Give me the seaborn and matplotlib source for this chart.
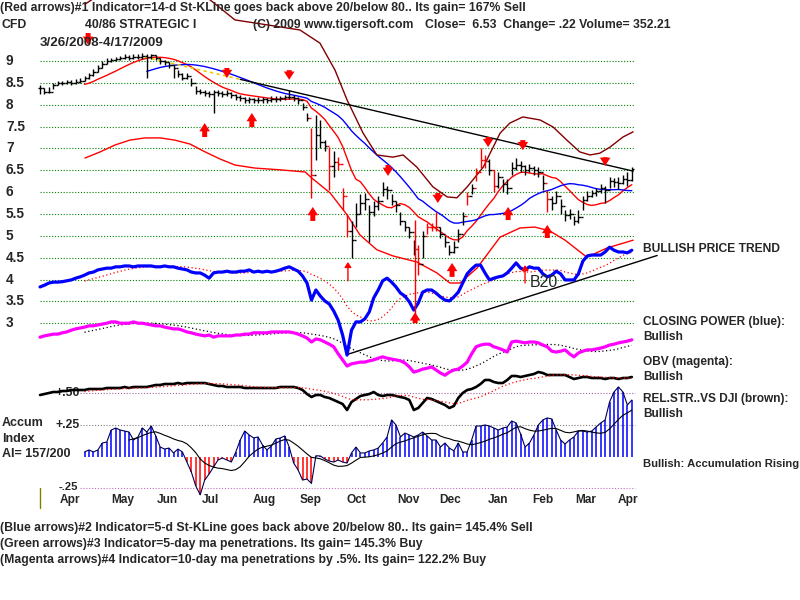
import numpy as np
import pandas as pd
import matplotlib
matplotlib.use('Agg')
import matplotlib.pyplot as plt
import matplotlib.transforms as mtransforms
import seaborn as sns

# ---- data: one bar every 2 trading days, 3/26/2008 - 4/17/2009 ----
close = [8.38, 8.30, 8.30, 8.45, 8.50, 8.50, 8.52, 8.50, 8.53, 8.55,
         8.60, 8.67, 8.75, 8.85, 8.93, 9.00, 9.03, 9.05, 9.07, 9.10,
         9.08, 9.10, 9.10, 9.12, 9.10, 9.13, 9.08, 9.00, 8.97, 8.90,
         8.85, 8.70, 8.62, 8.65, 8.50, 8.32, 8.30, 8.27, 8.25, 8.28,
         8.27, 8.25, 8.27, 8.22, 8.17, 8.15, 8.10, 8.12, 8.10, 8.10,
         8.12, 8.10, 8.13, 8.13, 8.15, 8.17, 8.18, 8.15, 8.10, 7.95,
         7.70, 6.40, 7.30, 7.15, 7.05, 6.60, 6.70, 6.65, 5.90, 5.10,
         4.90, 5.50, 5.75, 5.85, 5.55, 5.68, 5.80, 6.08, 6.05, 5.80,
         5.70, 5.35, 5.20, 5.08, 4.70, 4.35, 5.00, 5.20, 5.20, 5.20,
         5.05, 4.85, 4.62, 4.75, 5.05, 5.45, 5.92, 6.10, 6.45, 6.73,
         6.72, 6.50, 6.15, 6.35, 6.18, 6.10, 6.55, 6.62, 6.60, 6.50,
         6.55, 6.50, 6.47, 6.20, 5.85, 5.75, 5.92, 5.68, 5.48, 5.50,
         5.33, 5.42, 5.82, 5.92, 5.98, 6.02, 6.10, 6.05, 6.25, 6.23,
         6.20, 6.30, 6.28, 6.53]
high = [8.45, 8.38, 8.40, 8.50, 8.55, 8.55, 8.57, 8.56, 8.58, 8.60,
        8.66, 8.72, 8.82, 8.92, 9.00, 9.07, 9.08, 9.10, 9.12, 9.15,
        9.13, 9.15, 9.16, 9.18, 9.16, 9.17, 9.14, 9.08, 9.03, 8.97,
        8.92, 8.80, 8.72, 8.72, 8.60, 8.42, 8.36, 8.33, 8.32, 8.33,
        8.34, 8.31, 8.33, 8.29, 8.24, 8.22, 8.17, 8.18, 8.16, 8.17,
        8.18, 8.16, 8.19, 8.19, 8.21, 8.23, 8.33, 8.22, 8.18, 8.05,
        7.82, 7.47, 7.77, 7.65, 7.20, 7.03, 6.95, 6.80, 6.10, 5.50,
        5.35, 5.75, 5.95, 5.98, 5.70, 5.80, 5.90, 6.22, 6.15, 5.95,
        5.80, 5.55, 5.35, 5.20, 4.90, 4.80, 5.10, 5.30, 5.30, 5.55,
        5.20, 5.00, 4.78, 4.88, 5.15, 5.55, 6.00, 6.18, 6.55, 7.00,
        6.85, 6.75, 6.50, 6.45, 6.30, 6.30, 6.70, 6.78, 6.72, 6.62,
        6.65, 6.60, 6.58, 6.40, 6.05, 5.90, 6.02, 5.85, 5.60, 5.62,
        5.45, 5.60, 5.92, 6.02, 6.05, 6.10, 6.18, 6.15, 6.35, 6.32,
        6.35, 6.40, 6.45, 6.58]
low = [8.25, 8.25, 8.27, 8.35, 8.45, 8.45, 8.47, 8.46, 8.48, 8.50,
       8.54, 8.58, 8.66, 8.75, 8.84, 8.93, 8.98, 9.00, 9.02, 9.05,
       9.03, 9.05, 9.04, 9.05, 8.62, 9.05, 9.02, 8.93, 8.90, 8.84,
       8.60, 8.64, 8.56, 8.58, 8.42, 8.25, 8.24, 8.20, 8.18, 7.80,
       8.20, 8.18, 8.20, 8.15, 8.10, 8.08, 8.04, 8.05, 8.04, 8.04,
       8.05, 8.04, 8.07, 8.07, 8.09, 8.10, 8.12, 8.08, 8.02, 7.88,
       7.62, 5.86, 6.73, 7.00, 6.95, 6.05, 6.35, 6.50, 5.60, 4.97,
       4.50, 5.20, 5.50, 5.60, 4.85, 5.45, 5.60, 5.90, 5.85, 5.70,
       5.55, 5.25, 5.10, 4.95, 4.55, 4.10, 4.50, 5.05, 5.10, 5.10,
       4.95, 4.75, 4.55, 4.60, 4.85, 5.25, 5.70, 5.95, 6.25, 6.55,
       6.55, 6.40, 6.00, 6.10, 6.00, 5.95, 6.40, 6.50, 6.45, 6.40,
       6.45, 6.40, 6.35, 6.05, 5.55, 5.60, 5.75, 5.50, 5.35, 5.38,
       5.25, 5.30, 5.60, 5.80, 5.88, 5.90, 5.98, 5.75, 6.10, 6.12,
       6.08, 6.18, 6.15, 6.25]
red_bars = [61, 65, 67, 68, 69, 85, 87, 88, 89, 96, 98, 99, 100, 102, 114]

closing_power = [3.83, 3.87, 3.92, 3.94, 3.94, 3.95, 3.97, 3.99, 4.03, 4.06,
                 4.10, 4.15, 4.17, 4.22, 4.24, 4.26, 4.26, 4.29, 4.29, 4.31,
                 4.31, 4.29, 4.31, 4.31, 4.31, 4.31, 4.29, 4.29, 4.31, 4.29,
                 4.29, 4.26, 4.24, 4.22, 4.17, 4.15, 4.15, 4.10, 4.03, 4.15,
                 4.17, 4.17, 4.19, 4.17, 4.17, 4.19, 4.19, 4.22, 4.17, 4.19,
                 4.17, 4.19, 4.17, 4.19, 4.22, 4.26, 4.29, 4.24, 4.19, 4.08,
                 3.92, 3.53, 3.76, 3.62, 3.51, 3.44, 3.28, 3.07, 2.73, 2.27,
                 2.84, 3.03, 3.03, 3.10, 3.26, 3.58, 3.76, 3.97, 4.03, 3.94,
                 3.83, 3.69, 3.62, 3.49, 3.30, 3.46, 3.71, 3.76, 3.76, 3.69,
                 3.60, 3.53, 3.51, 3.60, 3.71, 3.92, 4.13, 4.24, 4.33, 4.33,
                 4.15, 3.99, 4.03, 4.06, 4.08, 4.15, 4.26, 4.38, 4.26, 4.22,
                 4.29, 4.26, 4.26, 4.13, 4.06, 4.10, 4.19, 4.13, 3.99, 3.99,
                 3.99, 4.13, 4.42, 4.54, 4.56, 4.56, 4.56, 4.63, 4.74, 4.67,
                 4.63, 4.63, 4.61, 4.67]
obv = [2.68, 2.71, 2.73, 2.75, 2.75, 2.78, 2.80, 2.84, 2.87, 2.89,
       2.91, 2.94, 2.94, 2.96, 2.98, 3.00, 3.03, 3.03, 3.00, 3.00,
       3.00, 3.03, 3.00, 3.00, 2.98, 2.96, 2.94, 2.94, 2.91, 2.89,
       2.87, 2.87, 2.84, 2.80, 2.78, 2.75, 2.73, 2.71, 2.73, 2.68,
       2.71, 2.71, 2.71, 2.71, 2.73, 2.73, 2.75, 2.75, 2.78, 2.78,
       2.78, 2.78, 2.80, 2.80, 2.80, 2.80, 2.80, 2.78, 2.75, 2.71,
       2.66, 2.57, 2.64, 2.62, 2.57, 2.52, 2.46, 2.30, 2.16, 2.02,
       2.07, 2.09, 2.11, 2.11, 2.14, 2.16, 2.20, 2.23, 2.20, 2.18,
       2.16, 2.14, 2.09, 2.00, 1.88, 1.91, 1.95, 1.97, 2.00, 1.93,
       1.86, 1.81, 1.88, 1.93, 1.95, 2.02, 2.11, 2.30, 2.46, 2.50,
       2.52, 2.52, 2.46, 2.43, 2.39, 2.34, 2.57, 2.59, 2.57, 2.55,
       2.57, 2.57, 2.55, 2.50, 2.46, 2.36, 2.34, 2.36, 2.39, 2.30,
       2.23, 2.32, 2.36, 2.39, 2.39, 2.41, 2.43, 2.46, 2.50, 2.52,
       2.55, 2.57, 2.59, 2.62]
rel_str = [.490, .495, .500, .505, .505, .510, .510, .515, .515, .515,
           .515, .520, .520, .520, .520, .525, .525, .525, .525, .530,
           .525, .530, .530, .530, .530, .535, .540, .540, .545, .545,
           .545, .550, .545, .550, .550, .550, .550, .550, .545, .540,
           .535, .535, .530, .530, .530, .530, .525, .525, .525, .525,
           .525, .525, .525, .525, .530, .530, .530, .530, .525, .515,
           .495, .480, .490, .490, .480, .475, .465, .455, .445, .415,
           .455, .470, .485, .490, .495, .505, .490, .485, .490, .490,
           .485, .480, .475, .465, .415, .425, .450, .475, .470, .460,
           .450, .440, .425, .435, .475, .500, .515, .520, .530, .545,
           .565, .565, .555, .550, .550, .565, .585, .585, .580, .585,
           .590, .595, .605, .600, .590, .590, .590, .590, .590, .580,
           .570, .575, .580, .580, .575, .575, .575, .570, .575, .575,
           .570, .575, .575, .580]
accum_start = 10
accum = [.04, .056, .04, .056, .111, .119, .214, .230, .214, .206,
         .198, .135, .159, .230, .198, .246, .167, .079, .063, .071,
         .032, .063, .04, -.04, -.119, -.23, -.30, -.183, -.135, -.079,
         -.024, -.008, -.024, -.04, .04, .135, .206, .175, .151, .159,
         .095, .056, .087, .143, .151, .167, .079, -.048, -.103, -.183,
         -.175, -.21, .01, .008, -.016, -.032, -.04, -.024, -.04, -.048,
         .032, .079, .032, .032, .048, .056, .071, .111, .159, .294,
         .254, .159, .190, .175, .159, .175, .198, .167, .135, .135,
         .079, .111, .071, .048, .111, .04, .04, .135, .246, .246,
         .254, .246, .230, .214, .230, .238, .286, .270, .183, .079,
         .111, .175, .254, .294, .310, .302, .214, .135, .103, .135,
         .159, .206, .206, .198, .206, .238, .270, .294, .437, .516,
         .556, .516, .413, .452]

lower_band_days = [10.1, 13.5, 16.9, 20.2, 23.6, 27.0, 30.3, 33.7, 37.1, 40.4,
                   43.8, 48.3, 53.9, 59.6, 61.1, 65.2, 69.0, 71.9, 75.7, 79.3,
                   84.7, 89.2, 92.1, 94.4, 98.2, 103.4, 107.9, 111.2, 114.6,
                   118.0, 122.9, 127.4, 133.3]
lower_band = [6.78, 6.92, 7.08, 7.19, 7.24, 7.24, 7.19, 7.10, 6.92, 6.76,
              6.62, 6.55, 6.51, 6.46, 6.32, 5.98, 5.48, 5.02, 4.68, 4.54,
              4.40, 4.15, 3.92, 3.92, 4.26, 4.97, 5.18, 5.20, 5.11,
              4.90, 4.51, 4.72, 4.90]
upper_band_days = [10.1, 13.5, 24.7, 33.7, 38.2, 43.8, 48.3, 58.4, 62.9, 66.3,
                   69.0, 72.6, 75.7, 79.3, 81.6, 84.7, 88.3, 91.5, 93.7, 96.0,
                   99.6, 103.4, 105.6, 108.5, 112.4, 115.3, 118.4, 121.3,
                   123.6, 125.8, 128.1, 131.0, 133.3]
upper_band = [10.30, 10.53, 10.9, 10.6, 10.40, 9.94, 9.87, 9.71, 9.41, 8.79,
              8.11, 7.35, 6.85, 6.80, 6.85, 6.57, 6.12, 5.89, 5.87, 6.12,
              6.57, 7.35, 7.58, 7.72, 7.65, 7.49, 7.19, 6.92,
              6.85, 6.89, 7.03, 7.26, 7.38]

down_trend_days = [23.6, 45.0, 133.3]
down_trend = [9.09, 8.58, 6.48]
up_trend_days = [69.2, 138.7]
up_trend = [2.29, 4.55]

# red signal arrows: x (bar number), tail value, head value
sell_days = [10.8, 42.0, 56.0, 78.2, 89.4, 100.7, 108.5, 127.0]
sell_tail = [9.64, 8.84, 8.79, 6.62, 5.98, 7.26, 7.19, 6.80]
sell_head = [9.37, 8.61, 8.57, 6.37, 5.75, 7.03, 6.96, 6.60]
buy_days = [37.0, 47.6, 61.3, 84.3, 92.6, 105.2, 114.0]
buy_tail = [7.26, 7.49, 5.34, 3.00, 4.06, 5.36, 4.95]
buy_head = [7.58, 7.81, 5.66, 3.25, 4.38, 5.66, 5.25]
thin_days = [69.2, 109.0]
thin_tail = [3.97, 3.92]
thin_head = [4.40, 4.33]
spike_day = 84.3
spike_low, spike_high = 3.20, 5.36

months = ['Apr', 'May', 'Jun', 'Jul', 'Aug', 'Sep', 'Oct', 'Nov', 'Dec',
          'Jan', 'Feb', 'Mar', 'Apr']
month_pos = [6.7, 18.7, 28.5, 38.4, 50.3, 60.9, 71.2, 82.7, 92.1,
             102.9, 113.0, 122.7, 132.1]
price_ticks = [9, 8.5, 8, 7.5, 7, 6.5, 6, 5.5, 5, 4.5, 4, 3.5, 3]
price_labels = ['9', '8.5', '8', '7.5', '7', '6.5', '6', '5.5', '5', '4.5', '4', '3.5', '3']

# ---- derived ----
n = len(close)
days = np.arange(n)
px = pd.DataFrame({'day': days, 'close': close, 'high': high, 'low': low,
                   'cp': closing_power, 'obv': obv, 'rs': rel_str})
px['open'] = px['close'].shift(1).fillna(px['close'])
px['ma21'] = px['close'].rolling(11).mean()
px['ma50'] = px['close'].rolling(25).mean()
px['cp_ma'] = px['cp'].rolling(11).mean()
px['obv_ma'] = px['obv'].rolling(11).mean()
px['rs_ma'] = px['rs'].rolling(11).mean()
ai = pd.DataFrame({'day': np.arange(accum_start, n), 'ai': accum})
ai['ma'] = ai['ai'].rolling(11).mean()

sns.set_style('white')
plt.rcParams['font.family'] = ['Liberation Sans', 'DejaVu Sans']

fig = plt.figure(figsize=(8, 6), dpi=100)
ax = fig.add_axes([0, 0, 1, 1])
ax_rs = fig.add_axes([0, 0, 1, 1], sharex=ax)
ax_ai = fig.add_axes([0, 0, 1, 1], sharex=ax)
for a in (ax, ax_rs, ax_ai):
    a.set_axis_off()
ax.set_xlim(-9.0, 170.8)
ax.set_ylim(-3.334, 10.396)
ax_rs.set_ylim(-0.535, 2.465)
ax_ai.set_ylim(-1.135, 3.627)

dots = (0, (1, 1.6))
# grid
for v in price_ticks:
    ax.plot([0, 133.7], [v, v], color='#008000', lw=0.8, ls=dots, zorder=1)
ax_rs.plot([9, 133.7], [0.5, 0.5], color='#a060a0', lw=0.8, ls=dots)
ax_ai.plot([9, 133.7], [0.25, 0.25], color='#808080', lw=0.8, ls=dots)
ax_ai.plot([9, 133.7], [-0.25, -0.25], color='#c070c0', lw=0.8, ls=dots)

# price bars
cols = ['red' if i in red_bars else 'black' for i in days]
ax.vlines(px['day'], px['low'], px['high'], colors=cols, lw=1, zorder=4)
ax.hlines(px['close'], px['day'], px['day'] + 0.5, colors=cols, lw=1, zorder=4)
ax.hlines(px['open'], px['day'] - 0.5, px['day'], colors=cols, lw=1, zorder=4)

# averages and bands
sns.lineplot(data=px, x='day', y='ma21', ax=ax, color='red', lw=1, zorder=3)
sns.lineplot(data=px, x='day', y='ma50', ax=ax, color='blue', lw=1, zorder=3)
sns.lineplot(x=lower_band_days, y=lower_band, ax=ax, color='red', lw=1, zorder=3)
sns.lineplot(x=upper_band_days, y=upper_band, ax=ax, color='#800000', lw=1, zorder=3)
ax.plot(down_trend_days[:2], down_trend[:2], color='#e8d000', lw=1.2, ls=(0, (2, 2)), zorder=3)
ax.plot(down_trend_days[1:], down_trend[1:], color='black', lw=1, zorder=3)
ax.plot(up_trend_days, up_trend, color='black', lw=1, zorder=3, clip_on=False)

# closing power, obv
sns.lineplot(data=px, x='day', y='cp_ma', ax=ax, color='red', lw=0.9, ls=(0, (1, 2)))
sns.lineplot(data=px, x='day', y='cp', ax=ax, color='#0000ff', lw=2.3, zorder=5)
sns.lineplot(data=px, x='day', y='obv_ma', ax=ax, color='black', lw=0.9, ls=(0, (1, 2)))
sns.lineplot(data=px, x='day', y='obv', ax=ax, color='#ff00ff', lw=2.3, zorder=5)

# relative strength
rl = mtransforms.blended_transform_factory(fig.transFigure, ax_rs.transData)
ax_rs.text(80 / 800, 0.5, '+.50', transform=rl, ha='right', va='center',
           fontsize=8.8, fontweight='bold', zorder=1)
sns.lineplot(data=px, x='day', y='rs', ax=ax_rs, color='black', lw=1.9, zorder=3)
sns.lineplot(data=px, x='day', y='rs_ma', ax=ax_rs, color='red', lw=0.9, ls=(0, (1, 2)), zorder=4)

# accumulation index
ai_cols = np.where(ai['ai'] >= 0, '#0000ff', 'red')
ax_ai.vlines(ai['day'], 0, ai['ai'], colors=ai_cols, lw=1.1)
sns.lineplot(data=ai, x='day', y='ai', ax=ax_ai, color='#000050', lw=0.8)
sns.lineplot(data=ai, x='day', y='ma', ax=ax_ai, color='black', lw=0.8)

# arrows
for x, t, h in zip(sell_days + buy_days, sell_tail + buy_tail, sell_head + buy_head):
    ax.annotate('', xy=(x, h), xytext=(x, t), zorder=6,
                arrowprops=dict(arrowstyle='simple,head_length=0.7,head_width=0.9,tail_width=0.42',
                                color='red', lw=0, mutation_scale=8.5, shrinkA=0, shrinkB=0))
for x, t, h in zip(thin_days, thin_tail, thin_head):
    ax.annotate('', xy=(x, h), xytext=(x, t), zorder=6,
                arrowprops=dict(arrowstyle='-|>,head_length=0.3,head_width=0.2',
                                color='red', lw=1, shrinkA=0, shrinkB=0))
ax.vlines(spike_day, spike_low, spike_high, colors='red', lw=1, zorder=6)

ax.text(110, 3.94, 'B20', fontsize=11.5, va='center', ha='left', zorder=7)

# axis labels as text
yl = mtransforms.blended_transform_factory(fig.transFigure, ax.transData)
for v, s in zip(price_ticks, price_labels):
    ax.text(6 / 800, v, s, transform=yl, fontsize=9.8, fontweight='bold', va='center')
al = mtransforms.blended_transform_factory(fig.transFigure, ax_ai.transData)
ax_ai.text(80 / 800, 0.25, '+.25', transform=al, ha='right', va='center', fontsize=8.8, fontweight='bold')
ax_ai.text(78 / 800, -0.235, '-.25', transform=al, ha='right', va='center', fontsize=8, fontweight='bold')
xl = mtransforms.blended_transform_factory(ax.transData, fig.transFigure)
for p, m in zip(month_pos, months):
    ax.text(p, 1 - 500 / 600, m, transform=xl, ha='center', va='center', fontsize=8.6, fontweight='bold')
fig.add_artist(plt.Line2D([40 / 800, 40 / 800], [1 - 488 / 600, 1 - 508 / 600], color='#808000', lw=1))


def put(x, y, s, size=8.8):
    fig.text(x / 800, 1 - y / 600, s, ha='left', va='center', fontsize=size, fontweight='bold')


put(0, 8, '(Red arrows)#1 Indicator=14-d St-KLine goes back above 20/below 80.. Its gain= 167% Sell')
put(2, 25, 'CFD')
put(85, 25, '40/86 STRATEGIC I')
put(253, 25, '(C) 2009 www.tigersoft.com')
put(425, 25, 'Close=  6.53  Change= .22 Volume= 352.21')
put(40, 43, '3/26/2008-4/17/2009', 9.6)
put(643, 249, 'BULLISH PRICE TREND', 8.7)
put(643, 322, 'CLOSING POWER (blue):', 8.6)
put(643, 337, 'Bullish', 8.6)
put(643, 362, 'OBV (magenta):', 8.6)
put(643, 377, 'Bullish', 8.6)
put(643, 399, 'REL.STR..VS DJI (brown):', 8.6)
put(643, 414, 'Bullish', 8.6)
put(643, 464, 'Bullish: Accumulation Rising', 8.1)
put(2, 423, 'Accum', 9)
put(2, 439, 'Index', 9)
put(2, 454, 'AI= 157/200', 9)
put(0, 528, '(Blue arrows)#2 Indicator=5-d St-KLine goes back above 20/below 80.. Its gain= 145.4% Sell')
put(0, 544, '(Green arrows)#3 Indicator=5-day ma penetrations. Its gain= 145.3% Buy')
put(0, 560, '(Magenta arrows)#4 Indicator=10-day ma penetrations by .5%. Its gain= 122.2% Buy')

fig.savefig('out.png', dpi=100, facecolor='white')
